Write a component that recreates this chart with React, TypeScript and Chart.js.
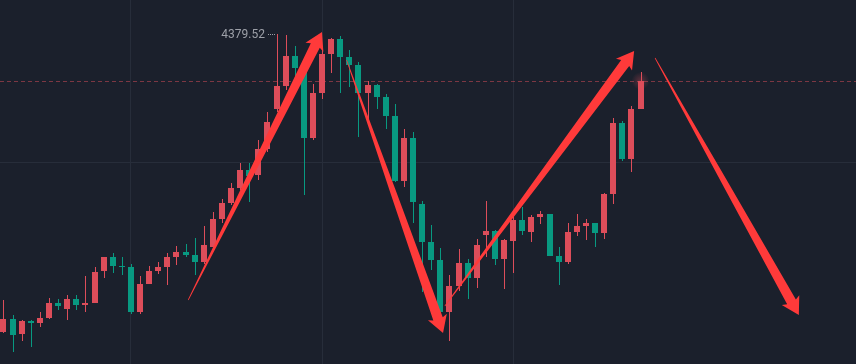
import React, { useEffect, useRef } from "react";
import { Chart, registerables } from "chart.js";

Chart.register(...registerables);

// ---- data (index-based bars) ----
const OPEN = [4082, 4095, 4080, 4093, 4091, 4096, 4111, 4105, 4115, 4109, 4111, 4143, 4157, 4148, 4147, 4102, 4130, 4143, 4147, 4157, 4162, 4159, 4152, 4167, 4195, 4211, 4226, 4244, 4239, 4265, 4305, 4328, 4358, 4344, 4276, 4321, 4360, 4375, 4357, 4349, 4321, 4329, 4317, 4298, 4233, 4276, 4210, 4172, 4154, 4102, 4128, 4151, 4136, 4179, 4183, 4155, 4173, 4194, 4182, 4197, 4200, 4158, 4152, 4182, 4188, 4191, 4181, 4220, 4291, 4255, 4305];
const HIGH = [4114, 4099, 4094, 4094, 4102, 4116, 4115, 4119, 4119, 4138, 4147, 4157, 4161, 4157, 4150, 4138, 4148, 4152, 4161, 4168, 4170, 4176, 4188, 4202, 4215, 4231, 4251, 4251, 4274, 4302, 4379.52, 4379, 4368, 4349, 4330, 4364, 4376, 4378, 4364, 4352, 4333, 4330, 4320, 4310, 4285, 4282, 4213, 4189, 4166, 4139, 4165, 4155, 4175, 4213, 4184, 4175, 4200, 4207, 4199, 4203, 4200, 4167, 4191, 4200, 4195, 4191, 4221, 4296, 4293, 4308, 4342];
const LOW = [4081, 4062, 4073, 4067, 4087, 4095, 4104, 4094, 4104, 4102, 4111, 4136, 4141, 4139, 4100, 4100, 4130, 4140, 4129, 4149, 4157, 4139, 4150, 4167, 4191, 4209, 4224, 4212, 4234, 4262, 4302, 4324, 4334, 4219, 4274, 4315, 4341, 4321, 4327, 4277, 4294, 4305, 4285, 4232, 4227, 4191, 4122, 4144, 4101, 4073, 4123, 4115, 4126, 4157, 4149, 4125, 4141, 4179, 4172, 4190, 4158, 4129, 4150, 4178, 4174, 4167, 4175, 4210, 4253, 4242, 4305];
const CLOSE = [4095, 4079, 4093, 4091, 4096, 4111, 4108, 4115, 4109, 4111, 4142, 4157, 4148, 4147, 4102, 4130, 4143, 4147, 4157, 4162, 4159, 4152, 4169, 4195, 4211, 4226, 4244, 4238, 4265, 4292, 4328, 4358, 4346, 4276, 4321, 4360, 4375, 4357, 4349, 4321, 4329, 4317, 4298, 4233, 4276, 4212, 4172, 4154, 4102, 4128, 4151, 4136, 4169, 4183, 4155, 4174, 4194, 4183, 4197, 4200, 4158, 4152, 4182, 4188, 4191, 4181, 4220, 4291, 4255, 4305, 4333];

// grid positions (bar index / price)
const X_GRID = [14, 35, 56];
const Y_GRID = [4252];

// high marker
const HIGH_LABEL = "4379.52";

// drawn arrows (bar index, price)
const ARROW_FROM_X = [20.3, 37.7, 48.5, 71.6];
const ARROW_FROM_Y = [4114, 4354, 4108, 4356];
const ARROW_TO_X = [35.0, 48.3, 69.3, 87.4];
const ARROW_TO_Y = [4382, 4081, 4363, 4099];

// visible range
const X_MIN = -0.3846;
const X_MAX = 93.681;
const Y_MIN = 4050;
const Y_MAX = 4414;

const BG = "#1b202c";
const GRID = "#272d3a";
const UP = "#dd4d5a";
const DOWN = "#089981";
const ARROW = "#ff3a3a";

function drawArrow(ctx: CanvasRenderingContext2D, x1: number, y1: number, x2: number, y2: number) {
  const dx = x2 - x1, dy = y2 - y1;
  const len = Math.hypot(dx, dy);
  const ux = dx / len, uy = dy / len;
  const nx = -uy, ny = ux;
  const L = 15, shaftHalf = 5, wingHalf = 10, sweep = 2, tailHalf = 0.35;
  const bx = x2 - ux * L, by = y2 - uy * L;
  const wx = x2 - ux * (L + sweep), wy = y2 - uy * (L + sweep);
  // slightly convex taper: mid point wider than linear
  const mx = x1 + (bx - x1) * 0.5, my = y1 + (by - y1) * 0.5;
  const midHalf = shaftHalf * 0.58;
  ctx.beginPath();
  ctx.moveTo(x1 + nx * tailHalf, y1 + ny * tailHalf);
  ctx.lineTo(mx + nx * midHalf, my + ny * midHalf);
  ctx.lineTo(bx + nx * shaftHalf, by + ny * shaftHalf);
  ctx.lineTo(wx + nx * wingHalf, wy + ny * wingHalf);
  ctx.lineTo(x2, y2);
  ctx.lineTo(wx - nx * wingHalf, wy - ny * wingHalf);
  ctx.lineTo(bx - nx * shaftHalf, by - ny * shaftHalf);
  ctx.lineTo(mx - nx * midHalf, my - ny * midHalf);
  ctx.lineTo(x1 - nx * tailHalf, y1 - ny * tailHalf);
  ctx.closePath();
  ctx.fill();
}

const candlePlugin = {
  id: "candles",
  beforeDraw(chart: any) {
    const { ctx, width, height, scales } = chart;
    const xs = scales.x, ys = scales.y;
    ctx.save();
    ctx.fillStyle = BG;
    ctx.fillRect(0, 0, width, height);
    ctx.strokeStyle = GRID;
    ctx.lineWidth = 1;
    X_GRID.forEach((v) => {
      const x = Math.floor(xs.getPixelForValue(v)) + 0.5;
      ctx.beginPath();
      ctx.moveTo(x, 0);
      ctx.lineTo(x, height);
      ctx.stroke();
    });
    Y_GRID.forEach((v) => {
      const y = Math.floor(ys.getPixelForValue(v)) + 0.5;
      ctx.beginPath();
      ctx.moveTo(0, y);
      ctx.lineTo(width, y);
      ctx.stroke();
    });
    // last price line
    const last = CLOSE[CLOSE.length - 1];
    const py = Math.floor(ys.getPixelForValue(last)) + 0.5;
    ctx.strokeStyle = "rgba(221,77,90,0.5)";
    ctx.setLineDash([4, 3]);
    ctx.beginPath();
    ctx.moveTo(0, py);
    ctx.lineTo(width, py);
    ctx.stroke();
    ctx.setLineDash([]);
    ctx.restore();
  },
  afterDatasetsDraw(chart: any) {
    const { ctx, scales } = chart;
    const xs = scales.x, ys = scales.y;
    ctx.save();
    for (let i = 0; i < OPEN.length; i++) {
      const up = CLOSE[i] >= OPEN[i];
      ctx.fillStyle = up ? UP : DOWN;
      const cx = xs.getPixelForValue(i);
      const left = Math.round(cx - 3);
      const hi = Math.round(ys.getPixelForValue(HIGH[i]));
      const lo = Math.round(ys.getPixelForValue(LOW[i]));
      ctx.fillRect(left + 3, hi, 1, Math.max(1, lo - hi));
      const top = Math.round(ys.getPixelForValue(Math.max(OPEN[i], CLOSE[i])));
      const bot = Math.round(ys.getPixelForValue(Math.min(OPEN[i], CLOSE[i])));
      ctx.fillRect(left, top, 6, Math.max(1, bot - top));
    }
    // glow on last bar
    const li = CLOSE.length - 1;
    const gx = xs.getPixelForValue(li);
    const gy = ys.getPixelForValue(CLOSE[li]);
    const g = ctx.createRadialGradient(gx, gy, 0, gx, gy, 9);
    g.addColorStop(0, "rgba(221,77,90,0.35)");
    g.addColorStop(1, "rgba(221,77,90,0)");
    ctx.fillStyle = g;
    ctx.beginPath();
    ctx.arc(gx, gy, 9, 0, Math.PI * 2);
    ctx.fill();

    // high label
    let hiIdx = 0;
    HIGH.forEach((h, i) => { if (h > HIGH[hiIdx]) hiIdx = i; });
    const hx = Math.round(xs.getPixelForValue(hiIdx));
    const hy = Math.round(ys.getPixelForValue(HIGH[hiIdx]));
    ctx.fillStyle = "#9da0a8";
    for (let d = hx - 9; d < hx - 1; d += 2) ctx.fillRect(d, hy, 1, 1);
    ctx.font = "12px Roboto, 'Liberation Sans', Arial, sans-serif";
    ctx.textAlign = "right";
    ctx.textBaseline = "middle";
    ctx.fillText(HIGH_LABEL, hx - 12, hy + 1);

    // arrows
    ctx.fillStyle = ARROW;
    for (let a = 0; a < ARROW_FROM_X.length; a++) {
      drawArrow(
        ctx,
        xs.getPixelForValue(ARROW_FROM_X[a]), ys.getPixelForValue(ARROW_FROM_Y[a]),
        xs.getPixelForValue(ARROW_TO_X[a]), ys.getPixelForValue(ARROW_TO_Y[a])
      );
    }
    ctx.restore();
  },
};

export default function App() {
  const ref = useRef<HTMLCanvasElement>(null);
  useEffect(() => {
    document.body.style.margin = "0";
    const canvas = ref.current!;
    const chart = new Chart(canvas, {
      type: "line",
      data: {
        datasets: [
          {
            data: CLOSE.map((c, i) => ({ x: i, y: c })),
            borderWidth: 0,
            pointRadius: 0,
            showLine: false,
          },
        ],
      },
      options: {
        responsive: false,
        animation: false,
        devicePixelRatio: 1,
        events: [],
        layout: { padding: 0 },
        plugins: { legend: { display: false }, tooltip: { enabled: false } },
        scales: {
          x: { type: "linear", display: false, min: X_MIN, max: X_MAX },
          y: { type: "linear", display: false, min: Y_MIN, max: Y_MAX },
        },
      },
      plugins: [candlePlugin],
    } as any);
    return () => chart.destroy();
  }, []);
  return (
    <div style={{ position: "fixed", left: 0, top: 0, width: 856, height: 364, background: BG }}>
      <canvas ref={ref} width={856} height={364} style={{ display: "block" }} />
    </div>
  );
}
